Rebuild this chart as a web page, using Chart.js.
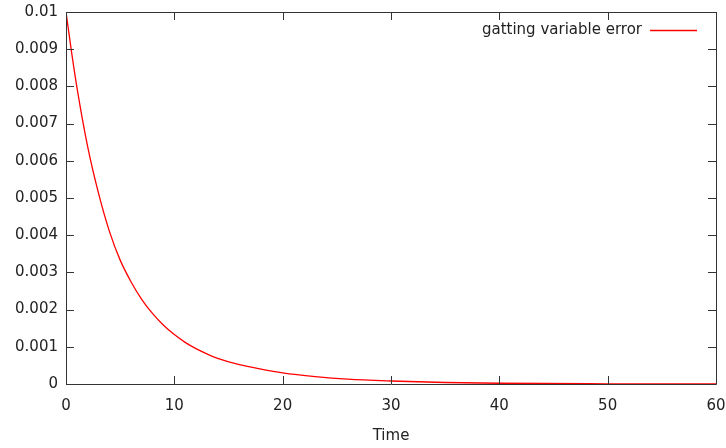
<!DOCTYPE html>
<html>
<head>
<meta charset="utf-8">
<script src="https://cdn.jsdelivr.net/npm/chart.js@4/dist/chart.umd.min.js"></script>
<style>
  html, body { margin: 0; padding: 0; background: #ffffff; }
  #wrap { width: 726px; height: 448px; }
</style>
</head>
<body>
<div id="wrap"><canvas id="c" width="726" height="448"></canvas></div>
<script>
const seriesLabel = 'gatting variable error';
const timeValues = [0, 0.5, 1, 2, 3, 4, 5, 6, 7, 8, 9, 10, 11, 12, 13, 14, 16, 18, 20, 23, 26, 30, 35, 40, 50, 60];
const errorValues = [0.0100, 0.00895, 0.00799, 0.00638, 0.00513, 0.00411, 0.00333, 0.00275, 0.00227, 0.00189, 0.00158, 0.00133, 0.00112, 0.00095, 0.00081, 0.00069, 0.00052, 0.00040, 0.00030, 0.00020, 0.00013, 0.00008, 0.00004, 0.00002, 0.000006, 0.000002];
const xTickValues = [0, 10, 20, 30, 40, 50, 60];
const yTickValues = [0, 0.001, 0.002, 0.003, 0.004, 0.005, 0.006, 0.007, 0.008, 0.009, 0.01];
const yTickLabels = ['0', '0.001', '0.002', '0.003', '0.004', '0.005', '0.006', '0.007', '0.008', '0.009', '0.01'];
const xTitle = 'Time';

const textColor = '#222222';
const fontFamily = '"DejaVu Sans", sans-serif';
const fontSize = 15;

const framePlugin = {
  id: 'frame',
  afterDraw(chart) {
    const {ctx, chartArea: a, scales} = chart;
    ctx.save();
    ctx.strokeStyle = '#333333';
    ctx.lineWidth = 1;
    ctx.beginPath();
    ctx.rect(Math.round(a.left) + 0.5, Math.round(a.top) + 0.5, Math.round(a.right - a.left), Math.round(a.bottom - a.top));
    ctx.stroke();
    const tl = 8;
    ctx.beginPath();
    scales.x.ticks.forEach(t => {
      const px = Math.round(scales.x.getPixelForValue(t.value)) + 0.5;
      ctx.moveTo(px, a.bottom); ctx.lineTo(px, a.bottom - tl);
      ctx.moveTo(px, a.top); ctx.lineTo(px, a.top + tl);
    });
    scales.y.ticks.forEach(t => {
      const py = Math.round(scales.y.getPixelForValue(t.value)) + 0.5;
      ctx.moveTo(a.left, py); ctx.lineTo(a.left + tl, py);
      ctx.moveTo(a.right, py); ctx.lineTo(a.right - tl, py);
    });
    ctx.stroke();
    // key in top-right: text then line sample
    const ds = chart.data.datasets[0];
    ctx.font = fontSize + 'px ' + fontFamily;
    ctx.fillStyle = textColor;
    ctx.textAlign = 'right';
    ctx.textBaseline = 'middle';
    ctx.fillText(ds.label, a.right - 74, a.top + 18);
    ctx.strokeStyle = ds.borderColor;
    ctx.lineWidth = ds.borderWidth;
    ctx.beginPath();
    ctx.moveTo(a.right - 66, a.top + 18.5);
    ctx.lineTo(a.right - 19, a.top + 18.5);
    ctx.stroke();
    ctx.restore();
  }
};

new Chart(document.getElementById('c'), {
  type: 'line',
  data: {
    datasets: [{
      label: seriesLabel,
      data: timeValues.map((t, i) => ({x: t, y: errorValues[i]})),
      borderColor: '#ff0000',
      borderWidth: 1.3,
      pointRadius: 0,
      fill: false,
      cubicInterpolationMode: 'monotone'
    }]
  },
  options: {
    responsive: false,
    animation: false,
    events: [],
    layout: { autoPadding: false, padding: { top: 12, right: 10, left: 0, bottom: 0 } },
    plugins: { legend: { display: false }, tooltip: { enabled: false } },
    scales: {
      x: {
        type: 'linear',
        min: 0, max: 60,
        afterBuildTicks(scale) { scale.ticks = xTickValues.map(v => ({value: v})); },
        afterFit(scale) { scale.height = 64; scale.paddingLeft = 0; scale.paddingRight = 0; },
        grid: { display: false, drawTicks: false },
        border: { display: false },
        ticks: { color: textColor, font: { family: fontFamily, size: fontSize }, padding: 13, maxRotation: 0 },
        title: { display: true, text: xTitle, color: textColor, font: { family: fontFamily, size: fontSize }, padding: { top: 0, bottom: 3 } }
      },
      y: {
        type: 'linear',
        min: 0, max: 0.01,
        afterBuildTicks(scale) { scale.ticks = yTickValues.map(v => ({value: v})); },
        afterFit(scale) { scale.width = 66; scale.paddingTop = 0; scale.paddingBottom = 0; },
        grid: { display: false, drawTicks: false },
        border: { display: false },
        ticks: {
          color: textColor, font: { family: fontFamily, size: fontSize }, padding: 8,
          callback: (v, i) => yTickLabels[i]
        }
      }
    }
  },
  plugins: [framePlugin]
});
</script>
</body>
</html>
